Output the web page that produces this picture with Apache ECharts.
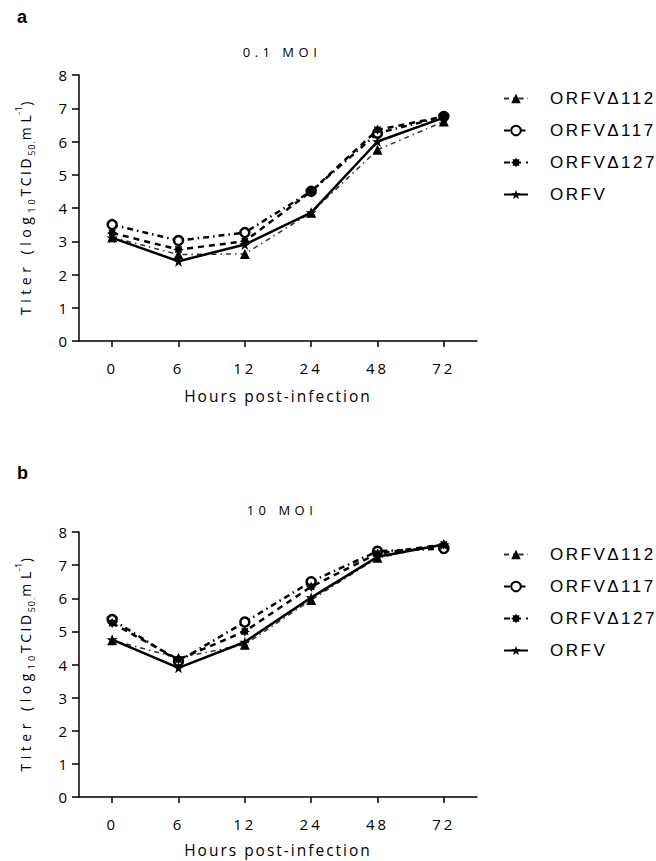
<!DOCTYPE html>
<html>
<head>
<meta charset="utf-8">
<script src="https://cdn.jsdelivr.net/npm/echarts@6/dist/echarts.min.js"></script>
<style>
html,body{margin:0;padding:0;background:#fff;}
#c{width:656px;height:861px;}
</style>
</head>
<body>
<div id="c"></div>
<script>
// ---- data ----
const hours = ['0', '6', '12', '24', '48', '72'];
const seriesNames = ['ORFV\u0394112', 'ORFV\u0394117', 'ORFV\u0394127', 'ORFV'];
const panelLetters = ['a', 'b'];
const panelTitles = ['0.1 MOI', '10 MOI'];
const xAxisTitle = 'Hours post-infection';
// y-axis title pieces: [text, rich style]
const yTitleParts = [['Titer (log', 'a'], ['10', 's'], ['TCID', 'b'], ['50.', 'u'], ['m L', 'c'], ['-1', 'p'], [')', 'c']];

// panel a : 0.1 MOI
const moiLow_d112 = [3.12, 2.6, 2.62, 3.86, 5.75, 6.6];
const moiLow_d117 = [3.5, 3.02, 3.26, 4.5, 6.25, 6.75];
const moiLow_d127 = [3.25, 2.75, 3.0, 4.5, 6.35, 6.75];
const moiLow_orfv = [3.1, 2.4, 2.9, 3.86, 6.0, 6.72];

// panel b : 10 MOI
const moiHigh_d112 = [4.73, 4.2, 4.6, 5.95, 7.22, 7.62];
const moiHigh_d117 = [5.36, 4.1, 5.28, 6.5, 7.42, 7.5];
const moiHigh_d127 = [5.25, 4.15, 5.0, 6.35, 7.35, 7.62];
const moiHigh_orfv = [4.75, 3.9, 4.68, 6.02, 7.25, 7.62];

const panelData = [
  [moiLow_d112, moiLow_d117, moiLow_d127, moiLow_orfv],
  [moiHigh_d112, moiHigh_d117, moiHigh_d127, moiHigh_orfv]
];

// ---- styles ----
// letter spacing (px) keyed by font size (px), applied to the SVG text
const SPACING = { '15.0': 3, '15.5': 2, '13.0': 4.5, '17.0': 2.5 };

const STAR5 = 'path://M0,-10L2.2,-3.1L9.5,-3.1L3.6,1.2L5.9,8.1L0,3.9L-5.9,8.1L-3.6,1.2L-9.5,-3.1L-2.2,-3.1Z';
const STAR8 = 'path://M0,-10L2.49,-6.01L7.07,-7.07L6.01,-2.49L10,0L6.01,2.49L7.07,7.07L2.49,6.01L0,10L-2.49,6.01L-7.07,7.07L-6.01,2.49L-10,0L-6.01,-2.49L-7.07,-7.07L-2.49,-6.01Z';

const seriesStyles = [
  { symbol: 'triangle', symbolSize: 10, itemStyle: { color: '#000' },
    lineStyle: { color: '#333', width: 1.5, type: [5, 4, 1.5, 4] } },
  { symbol: 'circle', symbolSize: 9, itemStyle: { color: '#fff', borderColor: '#000', borderWidth: 2.5 },
    lineStyle: { color: '#000', width: 2.5, type: [6, 4, 1.5, 4] } },
  { symbol: STAR8, symbolSize: 10, itemStyle: { color: '#000' },
    lineStyle: { color: '#000', width: 2.5, type: [6, 5] } },
  { symbol: STAR5, symbolSize: 11, itemStyle: { color: '#000' },
    lineStyle: { color: '#000', width: 2.5, type: 'solid' } }
];

const grids = [
  { left: 79, top: 75, width: 398, height: 266 },
  { left: 79, top: 532, width: 398, height: 265 }
];

const axisLineStyle = { color: '#000', width: 1.5 };

const yName = yTitleParts.map(([txt, st]) => txt.split('').map(ch => '{' + st + '|' + ch + '}').join('')).join('');
const fam = 'Open Sans';
const yRich = {
  a: { fontFamily: fam, fontSize: 14, color: '#000', lineHeight: 22, padding: [0, 4.5, 0, 0] },
  s: { fontFamily: fam, fontSize: 9, color: '#000', lineHeight: 9, verticalAlign: 'bottom', padding: [0, 3, 0, 0] },
  b: { fontFamily: fam, fontSize: 14, color: '#000', lineHeight: 22, padding: [0, 2.5, 0, 0] },
  u: { fontFamily: fam, fontSize: 9, color: '#000', lineHeight: 9, verticalAlign: 'bottom', padding: [0, 1, 0, 0] },
  c: { fontFamily: fam, fontSize: 14, color: '#000', lineHeight: 22, padding: [0, 0.5, 0, 0] },
  p: { fontFamily: fam, fontSize: 9, color: '#000', lineHeight: 9, verticalAlign: 'top', padding: [0, 0.5, 0, 0] }
};

const xNameGaps = [47, 45];
const xAxes = grids.map((g, i) => ({
  type: 'category', gridIndex: i, data: hours, boundaryGap: true,
  axisLine: { show: true, lineStyle: axisLineStyle },
  axisTick: { show: true, alignWithLabel: true, length: 6, lineStyle: axisLineStyle },
  axisLabel: { color: '#000', fontFamily: fam, fontSize: 15, margin: 19 },
  splitLine: { show: false },
  name: xAxisTitle, nameLocation: 'middle', nameGap: xNameGaps[i],
  nameTextStyle: { color: '#000', fontFamily: fam, fontSize: 15.5 }
}));

const yAxes = grids.map((g, i) => ({
  type: 'value', gridIndex: i, min: 0, max: 8, interval: 1,
  axisLine: { show: true, lineStyle: axisLineStyle },
  axisTick: { show: true, length: 7, lineStyle: axisLineStyle },
  axisLabel: { color: '#000', fontFamily: fam, fontSize: 15, margin: 9 },
  splitLine: { show: false },
  name: yName, nameLocation: 'middle', nameGap: 43, nameRotate: 90,
  nameTextStyle: { rich: yRich }
}));

const series = [];
panelData.forEach((arrs, p) => {
  arrs.forEach((vals, k) => {
    series.push(Object.assign({
      type: 'line', name: seriesNames[k], data: vals,
      xAxisIndex: p, yAxisIndex: p, showSymbol: true, z: 2 + k
    }, seriesStyles[k]));
  });
});

const legendTops = [90, 546];
const legends = legendTops.map(t => ({
  data: seriesNames, orient: 'vertical', left: 503, top: t, padding: 0,
  itemGap: 15, itemWidth: 24, itemHeight: 12, selectedMode: false,
  textStyle: { color: '#000', fontFamily: 'Liberation Sans', fontSize: 17, padding: [0, 0, 0, 17] }
}));

const letterPos = [[17, 17], [17, 473]];
const titlePos = [[282, 52], [282, 510]];
const graphics = [];
panelLetters.forEach((l, i) => graphics.push({
  type: 'text', x: letterPos[i][0], y: letterPos[i][1],
  style: { text: l, fill: '#000', font: 'bold 18px "Liberation Sans"', align: 'left', verticalAlign: 'middle' }
}));
panelTitles.forEach((t, i) => graphics.push({
  type: 'text', x: titlePos[i][0], y: titlePos[i][1],
  style: { text: t, fill: '#000', font: '13px "Open Sans"', align: 'center', verticalAlign: 'middle' }
}));

function applySpacing() {
  document.querySelectorAll('#c svg text, #c svg tspan').forEach(el => {
    const fs = parseFloat(getComputedStyle(el).fontSize);
    const key = fs.toFixed(1);
    if (SPACING[key] != null) el.style.letterSpacing = SPACING[key] + 'px';
  });
}

const chart = echarts.init(document.getElementById('c'), null, { renderer: 'svg' });
chart.on('finished', applySpacing);
chart.setOption({
  animation: false,
  backgroundColor: '#fff',
  grid: grids,
  xAxis: xAxes,
  yAxis: yAxes,
  legend: legends,
  graphic: graphics,
  series: series
});
applySpacing();
setTimeout(applySpacing, 30);
setTimeout(applySpacing, 200);
</script>
</body>
</html>
